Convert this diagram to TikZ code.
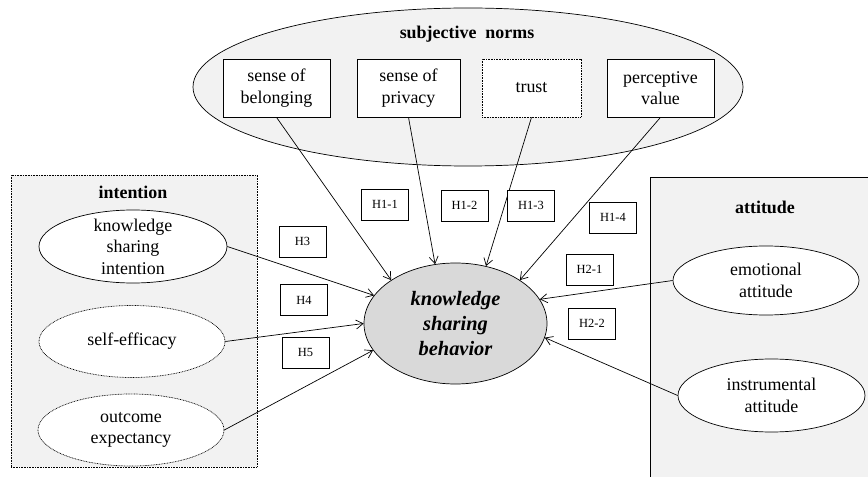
\documentclass[tikz,border=0pt]{standalone}
\usepackage{fontspec}
\setmainfont{Liberation Serif}
\usetikzlibrary{arrows.meta, positioning, shapes.geometric}
\definecolor{grpfill}{HTML}{F2F2F2}
\definecolor{corefill}{HTML}{D9D9D9}
\begin{document}
\begin{tikzpicture}[x=1bp,y=-1bp,line width=0.7bp,
  dotline/.style={dash pattern=on 0.8bp off 0.8bp},
  txt/.style={align=center,inner sep=0pt,font=\fontsize{18}{21.5}\selectfont},
  head/.style={inner sep=0pt,font=\fontsize{18}{21.5}\selectfont\bfseries},
  oval/.style={draw,ellipse,fill=white,inner sep=0pt,minimum width=186bp,minimum height=72bp},
  factor/.style={draw,rectangle,fill=white,inner sep=0pt,minimum height=58bp,align=center,font=\fontsize{18}{21.5}\selectfont},
  hyp/.style={draw,rectangle,fill=white,inner sep=0pt,minimum width=47bp,minimum height=31bp,font=\fontsize{12.5}{15}\selectfont},
  link/.style={-{Straight Barb[length=7bp,width=9bp]}}]
\useasboundingbox (0,0) rectangle (868,477);

% groups
\node[draw,ellipse,fill=grpfill,inner sep=0pt,minimum width=550bp,minimum height=158bp] (norms) at (468,87) {};
\node[head] (norms-t) at (467,34) {subjective~~norms};
\node[draw,dotline,fill=grpfill,inner sep=0pt,minimum width=246bp,minimum height=292bp] (intent) at (134,321) {};
\node[head] (intent-t) at (133,192) {intention};
\fill[grpfill] (650,177) rectangle (868,477);
\draw (868,177) -- (650,177) -- (650,477);
\node[head] (att-t) at (765,207) {attitude};

% subjective norms
\node[factor,minimum width=107bp] (belong) at (276.5,88) {sense of\\belonging};
\node[factor,minimum width=103bp] (privacy) at (408.5,88) {sense of\\privacy};
\node[factor,dotline,minimum width=99bp] (trust) at (531.5,88) {trust};
\node[factor,minimum width=107bp] (value) at (660.5,88) {perceptive\\value};

% intention
\node[oval,minimum width=188bp,minimum height=73bp] (ksi) at (133,246.5) {};
\node[txt] (ksi-t) at (ksi) {knowledge\\sharing\\intention};
\node[oval,dotline] (eff) at (132,341.5) {};
\node[txt] (eff-t) at (eff) {self-efficacy};
\node[oval,dotline] (outc) at (131,430) {};
\node[txt] (outc-t) at (outc) {outcome\\expectancy};

% attitude
\node[oval,minimum height=69bp] (emo) at (766,280.5) {};
\node[txt] (emo-t) at (emo) {emotional\\attitude};
\node[oval,minimum width=187bp,minimum height=73bp] (instr) at (771.5,395.5) {};
\node[txt] (instr-t) at (instr) {instrumental\\attitude};

% behavior
\node[draw,ellipse,fill=corefill,inner sep=0pt,minimum width=183bp,minimum height=121bp] (ksb) at (455.5,323.5) {};
\node[txt,font=\fontsize{20.5}{25}\selectfont\bfseries\itshape] (ksb-t) at (ksb) {knowledge\\sharing\\behavior};

% paths
\draw[link] (belong.south) -- (ksb.146);
\draw[link] (privacy.south) -- (ksb.109);
\draw[link] (trust.south) -- (ksb.62.5);
\draw[link] (value.south) -- (ksb.34.4);
\draw[link] (ksi.east) -- (ksb.161);
\draw[link] (eff.east) -- (ksb.180);
\draw[link] (outc.east) -- (ksb.198);
\draw[link] (emo.west) -- (ksb.16.5);
\draw[link] (instr.west) -- (ksb.351.5);

% hypotheses
\node[hyp] (h11) at (385,204.5) {H1-1};
\node[hyp] (h12) at (464.5,205.5) {H1-2};
\node[hyp] (h13) at (531,205.5) {H1-3};
\node[hyp] (h14) at (613,217.5) {H1-4};
\node[hyp] (h3) at (302.5,241.5) {H3};
\node[hyp] (h21) at (589.5,269.5) {H2-1};
\node[hyp] (h4) at (304,300) {H4};
\node[hyp] (h22) at (592,323.5) {H2-2};
\node[hyp] (h5) at (305.5,352.5) {H5};
\end{tikzpicture}
\end{document}
